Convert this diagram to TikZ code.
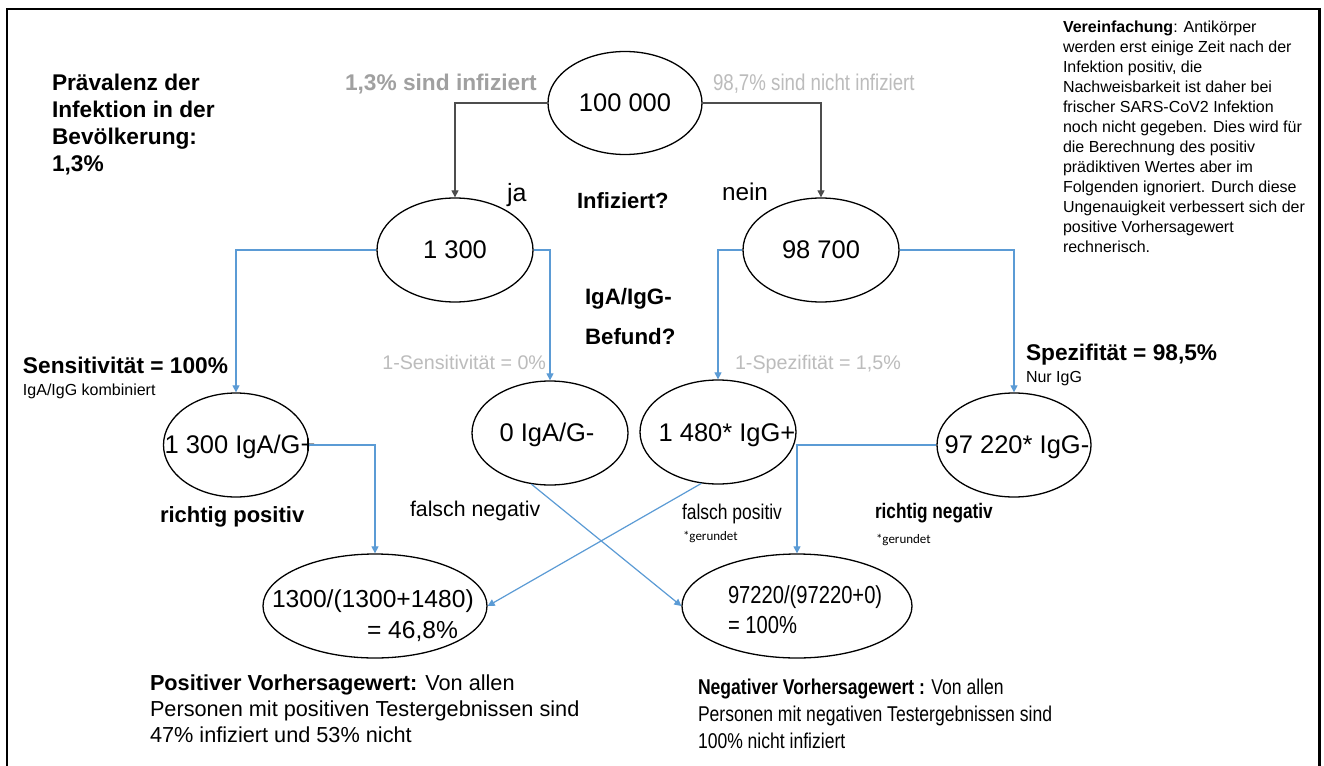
\documentclass[tikz,border=0pt]{standalone}
\usepackage{fontspec}
\setmainfont{Liberation Sans}
\newfontfamily\narrowf[FakeStretch=0.82]{Liberation Sans}
\newfontfamily\calif{Carlito}
\usetikzlibrary{shapes.geometric,arrows.meta}
\definecolor{lblue}{HTML}{5B9BD5}
\definecolor{gA}{HTML}{A0A0A0}
\definecolor{gB}{HTML}{BCBCBC}
\definecolor{dline}{HTML}{4D4D4D}
\newcommand\fsz[2]{\fontsize{#1}{#2}\selectfont}
\begin{document}
\begin{tikzpicture}[x=1pt,y=-1pt,
  ell/.style={draw=black,line width=1.3pt,ellipse,inner sep=0pt},
  txt/.style={inner sep=0pt,outer sep=0pt},
  num/.style={txt,font=\fsz{25.5}{30}},
  darr/.style={draw=dline,line width=1.1pt,-{Triangle[width=7pt,length=7pt]}},
  barr/.style={draw=lblue,line width=1.2pt,-{Triangle[width=7pt,length=7pt]}},
  boldlbl/.style={txt,font=\bfseries\fsz{22.7}{27}},
  graylbl/.style={txt,font=\fsz{19.7}{24},text=gB},
  small/.style={txt,font=\fsz{16}{20}},
  ger/.style={txt,font=\calif\fsz{13}{16}},
]
\useasboundingbox (0,0) rectangle (1324,765);
\fill[white] (0,0) rectangle (1324,765);
% frame (open at the bottom)
\draw[line width=2.5pt] (7,767) -- (7,9) -- (1319.5,9) -- (1319.5,767);

% ellipses
\node[ell,minimum width=154pt,minimum height=103pt] (top) at (625,103) {};
\node[ell,minimum width=156pt,minimum height=104pt] (inf) at (455,250) {};
\node[ell,minimum width=156pt,minimum height=104pt] (ninf) at (821,250) {};
\node[ell,minimum width=145pt,minimum height=104pt] (tp) at (236,445) {};
\node[ell,minimum width=156pt,minimum height=104pt] (fn) at (550,433) {};
\node[ell,minimum width=156pt,minimum height=104pt] (fp) at (718,432) {};
\node[ell,minimum width=154pt,minimum height=104pt] (tn) at (1014,445) {};
\node[ell,minimum width=224pt,minimum height=104pt] (ppv) at (375,606) {};
\node[ell,minimum width=230pt,minimum height=104pt] (npv) at (797,606) {};

% ellipse texts
\node[num] (ttop) at (625,103) {100 000};
\node[num] (tinf) at (455,250) {1 300};
\node[num] (tninf) at (821,250) {98 700};
\node[num,anchor=base] (ttp) at (240,453) {1 300 IgA/G+};
\node[num,anchor=base] (tfn) at (547,441) {0 IgA/G-};
\node[num,anchor=base] (tfp) at (727,441) {1 480* IgG+};
\node[num,anchor=base] (ttn) at (1017,453) {97 220* IgG-};
\node[txt,anchor=base west,font=\fsz{24.6}{30}] (tppv1) at (272,607) {1300/(1300+1480)};
\node[txt,anchor=base east,font=\fsz{24.6}{30}] (tppv2) at (458,638) {= 46,8\%};
\node[txt,anchor=base west,font=\narrowf\fsz{24.6}{30}] (tnpv1) at (728,603) {97220/(97220+0)};
\node[txt,anchor=base west,font=\narrowf\fsz{24.6}{30}] (tnpv2) at (728,633) {= 100\%};

% connectors
\draw[darr] (top.west) -| (inf.north);
\draw[darr] (top.east) -| (ninf.north);
\draw[barr] (inf.west) -| (tp.north);
\draw[barr] (inf.east) -| (fn.north);
\draw[barr] (ninf.west) -| (fp.north);
\draw[barr] (ninf.east) -| (tn.north);
\draw[barr] (tp.east) -| (ppv.north);
\draw[barr] (tn.west) -| (npv.north);
\draw[barr] (fp.252) -- (ppv.east);
\draw[barr] (fn.250) -- (npv.west);

% labels
\node[txt,anchor=north west,align=left,font=\bfseries\fsz{22.7}{26.8}] (prev) at (52,74.5)
  {Prävalenz der\\Infektion in der\\Bevölkerung:\\1,3\%};
\node[boldlbl,anchor=base west,text=gA] (l13) at (345,91) {1,3\% sind infiziert};
\node[txt,anchor=base west,text=gB,font=\narrowf\fsz{22.8}{27}] (l987) at (713,91) {98,7\% sind nicht infiziert};
\node[txt,anchor=base west,font=\fsz{25}{30}] (lja) at (507,201) {ja};
\node[txt,anchor=base west,font=\fsz{24.3}{30}] (lnein) at (722,200) {nein};
\node[txt,anchor=base west,font=\bfseries\fsz{22}{27}] (linf) at (577,208) {Infiziert?};
\node[txt,anchor=base west,font=\bfseries\fsz{22.3}{27}] (ligg) at (585,304) {IgA/IgG-};
\node[txt,anchor=base west,font=\bfseries\fsz{22.3}{27}] (lbef) at (585,344) {Befund?};
\node[graylbl,anchor=base east] (lsens0) at (546,369) {1-Sensitivität = 0\%};
\node[graylbl,anchor=base west] (lspez) at (735,369) {1-Spezifität = 1,5\%};
\node[boldlbl,anchor=base west] (lsens) at (23,373) {Sensitivität = 100\%};
\node[small,anchor=base west] (lkomb) at (23,395) {IgA/IgG kombiniert};
\node[boldlbl,anchor=base west] (lspez2) at (1026,360) {Spezifität = 98,5\%};
\node[small,anchor=base west] (lnur) at (1026,382) {Nur IgG};
\node[txt,anchor=base west,font=\bfseries\fsz{22}{27}] (lrp) at (160,522) {richtig positiv};
\node[txt,anchor=base west,font=\fsz{21.3}{26}] (lfn) at (410,516) {falsch negativ};
\node[txt,anchor=base west,font=\narrowf\fsz{21.3}{26}] (lfp) at (682,519) {falsch positiv};
\node[ger,anchor=base west] (lger1) at (683,540) {*gerundet};
\node[txt,anchor=base west,font=\narrowf\bfseries\fsz{21}{26}] (lrn) at (875,518) {richtig negativ};
\node[ger,anchor=base west] (lger2) at (876,543) {*gerundet};

% note
\node[txt,anchor=north west,align=left,font=\fsz{16}{20}] (note) at (1063,21.3)
  {\textbf{Vereinfachung}: Antikörper\\werden erst einige Zeit nach der\\Infektion positiv, die\\Nachweisbarkeit ist daher bei\\frischer SARS-CoV2 Infektion\\noch nicht gegeben. Dies wird für\\die Berechnung des positiv\\prädiktiven Wertes aber im\\Folgenden ignoriert. Durch diese\\Ungenauigkeit verbessert sich der\\positive Vorhersagewert\\rechnerisch.};

% bottom texts
\node[txt,anchor=north west,align=left,font=\fsz{21.7}{25.8}] (bppv) at (150,675)
  {\textbf{Positiver Vorhersagewert:} Von allen\\Personen mit positiven Testergebnissen sind\\47\% infiziert und 53\% nicht};
\node[txt,anchor=north west,align=left,font=\narrowf\fsz{21.4}{27}] (bnpv) at (698,679)
  {\textbf{Negativer Vorhersagewert :} Von allen\\Personen mit negativen Testergebnissen sind\\100\% nicht infiziert};
\end{tikzpicture}
\end{document}
